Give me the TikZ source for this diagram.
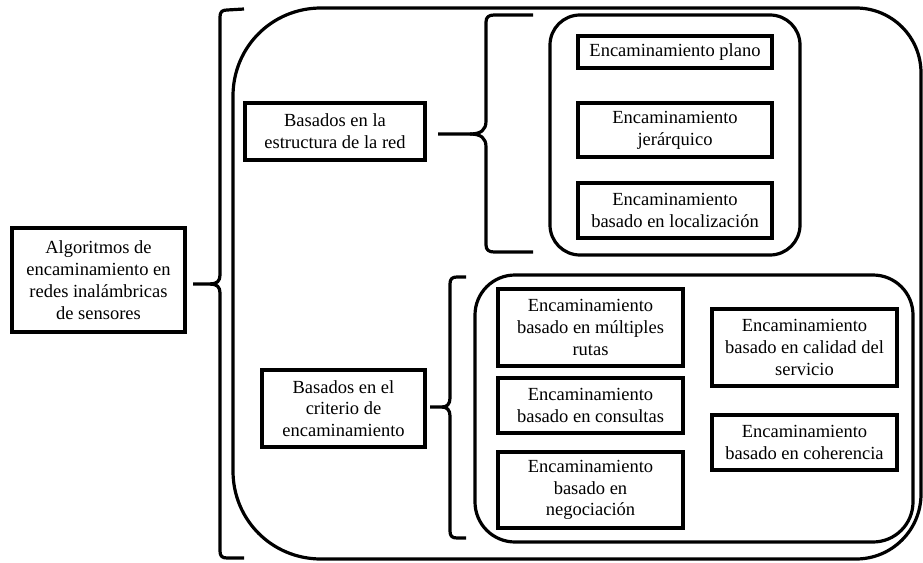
\documentclass[tikz,border=0pt]{standalone}
\usepackage{fontspec}
\setmainfont{Liberation Serif}
\begin{document}
\begin{tikzpicture}[x=1pt,y=-1pt,
  lbl/.style={draw,line width=3.1pt,align=center,inner sep=0pt,
    font=\fontsize{18.5}{21.8}\selectfont},
  brk/.style={line width=3.2pt,line join=round},
  grp/.style={line width=3.2pt}]
\useasboundingbox (0,0) rectangle (923,562);

% outer rounded group
\draw[grp] (233,96) .. controls (233,47) and (272,8) .. (321,8) -- (856,8)
  .. controls (892,8) and (921,37) .. (921,73) -- (921,494)
  .. controls (921,530) and (892,559) .. (856,559) -- (321,559)
  .. controls (272,559) and (233,520) .. (233,471) -- cycle;

% inner rounded groups
\draw[grp,rounded corners=30pt] (550,15) rectangle (800,255);
\draw[grp,rounded corners=40pt] (475,275) rectangle (913,542);

% nodes
\node[lbl,minimum width=173pt,minimum height=104pt] (main) at (98.5,280)
  {Algoritmos de\\encaminamiento en\\redes inalámbricas\\de sensores};
\node[lbl,minimum width=180pt,minimum height=57pt] (bstruct) at (335,131.5)
  {Basados en la\\estructura de la red};
\node[lbl,minimum width=163pt,minimum height=77pt] (bcrit) at (343.5,408.5)
  {Basados en el\\criterio de\\encaminamiento};
\node[lbl,minimum width=194pt,minimum height=32pt] (plano) at (675,52)
  {Encaminamiento plano};
\node[lbl,minimum width=194pt,minimum height=54pt] (jer) at (675,130)
  {Encaminamiento\\jerárquico};
\node[lbl,minimum width=194pt,minimum height=55pt] (loc) at (675,210.5)
  {Encaminamiento\\basado en localización};
\node[lbl,minimum width=185pt,minimum height=77pt] (mult) at (590.5,327.5)
  {Encaminamiento\\basado en múltiples\\rutas};
\node[lbl,minimum width=185pt,minimum height=55pt] (cons) at (590.5,405.5)
  {Encaminamiento\\basado en consultas};
\node[lbl,minimum width=185pt,minimum height=76pt] (neg) at (590.5,490)
  {Encaminamiento\\basado en\\negociación};
\node[lbl,minimum width=185pt,minimum height=77pt] (qos) at (804.5,347.5)
  {Encaminamiento\\basado en calidad del\\servicio};
\node[lbl,minimum width=185pt,minimum height=55pt] (coh) at (804.5,442.5)
  {Encaminamiento\\basado en coherencia};

% bracket tips
\coordinate (b1tip) at (193,284);
\coordinate (b2tip) at (438,134);
\coordinate (b3tip) at (430,407);

% bracket 1
\draw[brk] (244,9) -- (227,10) .. controls (222,10) and (220,12) .. (220,17)
  -- (220,275) .. controls (220,281) and (217,284) .. (210,284) -- (b1tip);
\draw[brk] (210,284) .. controls (217,284) and (220,287) .. (220,293)
  -- (220,551) .. controls (220,556) and (222,558) .. (227,558) -- (244,558);

% bracket 2
\draw[brk] (533,15) -- (494,15) .. controls (489,15) and (486,17) .. (486,22)
  -- (486,121) .. controls (486,130) and (481,134) .. (470,134) -- (b2tip);
\draw[brk] (470,134) .. controls (481,134) and (486,138) .. (486,147)
  -- (486,245) .. controls (486,250) and (489,252) .. (494,252) -- (533,252);

% bracket 3
\draw[brk] (466,277) -- (457,277) .. controls (452,277) and (450,279) .. (450,284)
  -- (450,398) .. controls (450,404) and (447,407) .. (442,407) -- (b3tip);
\draw[brk] (442,407) .. controls (447,407) and (450,410) .. (450,416)
  -- (450,531) .. controls (450,536) and (452,538) .. (457,538) -- (466,538);
\end{tikzpicture}
\end{document}
